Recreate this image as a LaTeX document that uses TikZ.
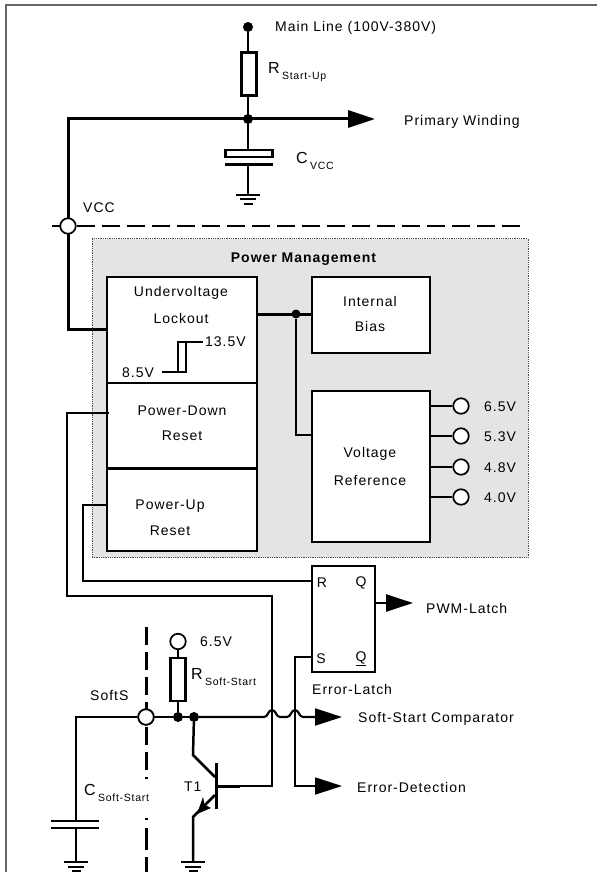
\documentclass[tikz,border=0pt]{standalone}
\usepackage{fontspec}
\setmainfont[LetterSpace=7]{Liberation Sans}
\newfontfamily\plainf{Liberation Sans}
\usetikzlibrary{arrows.meta,calc}
\newcommand{\lab}[2]{{\fontsize{16}{18}\selectfont\plainf #1}\,\raisebox{-6pt}{\fontsize{10.5}{12}\selectfont #2}}
\tikzset{
 txt/.style={inner sep=0pt,yshift=-1pt,font=\fontsize{14}{16}\selectfont},
 ltxt/.style={txt,anchor=west},
 block/.style={draw,line width=2.9pt,fill=white,inner sep=0pt,outer sep=0pt},
 jdot/.style={circle,fill=black,inner sep=0pt,minimum size=10pt},
 pin/.style={circle,draw,fill=white,line width=1.7pt,inner sep=0pt,minimum size=15.5pt},
 wth/.style={line width=3pt},
 wmd/.style={line width=2.1pt},
 wtn/.style={line width=1.7pt},
 tip/.style={-{Triangle[length=27pt,width=17pt]}},
}
\newcommand{\grnd}[1]{%
 \draw[line width=2pt] ($(#1)+(-12,0)$) -- ($(#1)+(12,0)$);
 \draw[line width=2pt] ($(#1)+(-8,4.5)$) -- ($(#1)+(8,4.5)$);
 \draw[line width=2pt] ($(#1)+(-4.5,9)$) -- ($(#1)+(4.5,9)$);}
\begin{document}
\begin{tikzpicture}[x=1pt,y=-1pt]
\useasboundingbox (0,0) rectangle (597,872);
\draw[line width=1.2pt,black!60] (597,5) -- (6,5) -- (6,872);
% power management area
\node[draw=black!70,densely dotted,line width=.8pt,fill=black!10.5,minimum width=436pt,minimum height=319pt,inner sep=0pt,outer sep=0pt,anchor=north west] (pm) at (92,238.5) {};
\node[txt,font=\fontsize{14}{16}\selectfont\bfseries] (pmt) at (303.5,258) {Power Management};
% coordinates
\coordinate (dL) at (52,226); \coordinate (dR) at (524,226);
\coordinate (vcc) at (68,226);
\coordinate (tl) at (68,119);
\coordinate (vb) at (68,329);
\coordinate (pw) at (375,119);
\coordinate (g1) at (248,194.5);
\coordinate (barT) at (146,627); \coordinate (barB) at (146,872);
% main dashed line
\draw[line width=2.2pt,dash pattern=on 18pt off 7pt] (dL) -- (dR);
% blocks
\node[block,minimum width=150pt,minimum height=274pt,anchor=north west] (uv) at (107,277) {};
\node[block,minimum width=118pt,minimum height=76pt,anchor=north west] (ib) at (312,277) {};
\node[block,minimum width=118pt,minimum height=151pt,anchor=north west] (vr) at (312,391) {};
\node[block,minimum width=63pt,minimum height=106pt,anchor=north west] (el) at (312,566) {};
\coordinate (s1a) at (107,383); \coordinate (s1b) at (257,383);
\coordinate (s2a) at (107,468); \coordinate (s2b) at (257,468);
\draw[wmd] (s1a) -- (s1b);
\draw[wth] (s2a) -- (s2b);
% start-up branch
\node[jdot] (ml) at (248,27) {};
\node[draw,line width=2.6pt,fill=white,minimum width=15pt,minimum height=43pt,inner sep=0pt,outer sep=0pt] (rs) at (249,74) {};
\node[jdot] (j1) at (248,119) {};
\node[draw,line width=2.6pt,fill=white,minimum width=47pt,minimum height=7pt,inner sep=0pt,outer sep=0pt] (cv) at (249,153.5) {};
\coordinate (cp1) at (225,164.5); \coordinate (cp2) at (273,164.5);
\draw[line width=2.2pt] (cp1) -- (cp2);
\draw[wmd] (ml) -- (248,52);
\draw[wmd] (248,96) -- (j1);
\draw[wmd] (j1) -- (248,150);
\draw[wmd] (248,164.5) -- (g1);
\grnd{g1}
\draw[wth,tip] (vb -| uv.west) -- (vb) -- (tl) -- (pw);
% pin VCC
\node[pin] (vccp) at (vcc) {};
% undervoltage to bias
\node[jdot,minimum size=9pt] (j2) at (296,314) {};
\draw[wth] (257,314) -- (ib.west |- j2);
\draw[wmd] (j2) |- (vr.west |- 0,435);
% hysteresis
\draw[wmd] (162,372) -- (186,372) -- (186,342) -- (203,342);
\draw[wmd] (178,372) -- (178,342) -- (186,342);
% reference pins
\foreach \n/\y/\t in {a/406/6.5V,b/436/5.3V,c/467/4.8V,d/497/4.0V}{
 \node[pin] (p\n) at (461,\y) {};
 \draw[wmd] (vr.east |- p\n) -- (p\n);
 \node[ltxt] (l\n) at (484,\y) {\t};
}
% reset lines
\coordinate (pdE) at (109,413); \coordinate (pdL) at (67,413); \coordinate (pdB) at (67,596);
\coordinate (pdR) at (272,596); \coordinate (bs) at (272,786); \coordinate (bT) at (217,786);
\draw[wtn] (pdE) -- (pdL) -- (pdB) -- (pdR) -- (bs) -- (240,786);
\draw[wth] (240,786) -- (bT);
\coordinate (puE) at (107,505); \coordinate (puL) at (83,505); \coordinate (puB) at (83,581);
\draw[wmd] (puE) -- (puL) -- (puB) -- (el.west |- puB);
% latch outputs
\coordinate (pwm) at (413,603);
\coordinate (sL) at (295,657); \coordinate (ed) at (342,786);
\draw[line width=2.4pt,tip] (el.east |- pwm) -- (pwm);
\draw[wtn,tip] (el.west |- sL) -- (sL) -- (295,786) -- (ed);
% soft-start
\node[pin] (ss) at (146,717) {};
\node[pin] (p65) at (178,641.5) {};
\node[draw,line width=2.6pt,fill=white,minimum width=15pt,minimum height=43pt,inner sep=0pt,outer sep=0pt] (rss) at (178,679.5) {};
\node[jdot] (j3) at (178,717) {};
\node[jdot] (j4) at (194,717) {};
\draw[line width=3pt,dash pattern=on 18pt off 7pt on 18pt off 7pt on 18pt off 7pt on 18pt off 7pt on 18pt off 7pt on 18pt off 7pt on 1.5pt off 39.5pt on 1.5pt off 8.5pt on 22pt off 7pt on 20pt off 10pt] (barT) -- (barB);
\node[pin] (ss2) at (146,717) {};
\draw[wmd] (p65) -- (rss);
\draw[wmd] (rss) -- (j3);
\draw[wmd] (ss2) -- (j3) -- (j4);
\coordinate (cT) at (76,717); \coordinate (cP) at (76,821); \coordinate (cQ) at (76,828); \coordinate (g2) at (76,862);
\draw[wmd] (ss2) -- (cT) -- (cP);
\draw[wmd] (cQ) -- (g2);
\draw[line width=2.8pt] (51,821) -- (99,821);
\draw[line width=2.8pt] (51,828) -- (99,828);
\grnd{g2}
\coordinate (sc) at (342,717);
\draw[wmd,tip] (j4) -- (264,717) .. controls (268,717) and (268,710) .. (272,710) .. controls (276,710) and (276,717) .. (280,717) -- (287,717) .. controls (291,717) and (291,710) .. (295,710) .. controls (299,710) and (299,717) .. (303,717) -- (sc);
% transistor
\coordinate (tc) at (193,755); \coordinate (tcb) at (215,777);
\coordinate (te) at (193,817); \coordinate (teb) at (215,795); \coordinate (g3) at (193,862);
\draw[line width=2.5pt] (j4) -- (tc) -- (tcb);
\draw[line width=3pt] (216.5,763) -- (216.5,809);
\draw[line width=2.5pt] (teb) -- (te) -- (g3);
\fill (197,814) -- (203,797) -- (204.5,804.5) -- (211,808) -- cycle;
\grnd{g3}
% text
\node[ltxt] (t1) at (275,27) {Main Line (100V-380V)};
\node[ltxt] (t2) at (268,71) {\lab{R}{Start-Up}};
\node[ltxt] (t3) at (404,121) {Primary Winding};
\node[ltxt] (t4) at (296,160) {\lab{C}{VCC}};
\node[ltxt] (t5) at (83,207) {VCC};
\node[txt] (b1) at (181,292) {Undervoltage};
\node[txt] (b2) at (181,317) {Lockout};
\node[ltxt] (h1) at (205,341) {13.5V};
\node[ltxt] (h2) at (122,372) {8.5V};
\node[txt] (b3) at (182,410) {Power-Down};
\node[txt] (b4) at (182,435) {Reset};
\node[txt] (b5) at (170,505) {Power-Up};
\node[txt] (b6) at (170,530) {Reset};
\node[txt] (b7) at (370,300) {Internal};
\node[txt] (b8) at (370,325) {Bias};
\node[txt] (b9) at (370,453) {Voltage};
\node[txt] (b10) at (370,479) {Reference};
\node[txt] (qR) at (322,582) {R};
\node[txt] (qQ) at (361,582) {Q};
\node[txt] (qS) at (321,658) {S};
\node[txt] (qN) at (361,658) {\underline{Q}};
\node[ltxt] (t6) at (312,688) {Error-Latch};
\node[ltxt] (t7) at (426,607) {PWM-Latch};
\node[ltxt] (t8) at (358,718) {Soft-Start Comparator};
\node[ltxt] (t9) at (357,786) {Error-Detection};
\node[ltxt] (t10) at (200,641) {6.5V};
\node[ltxt] (t11) at (191,676) {\lab{R}{Soft-Start}};
\node[ltxt] (t12) at (90,694) {SoftS};
\node[ltxt] (t13) at (84,792) {\lab{C}{Soft-Start}};
\node[ltxt] (t14) at (184,786) {T1};
\end{tikzpicture}
\end{document}
